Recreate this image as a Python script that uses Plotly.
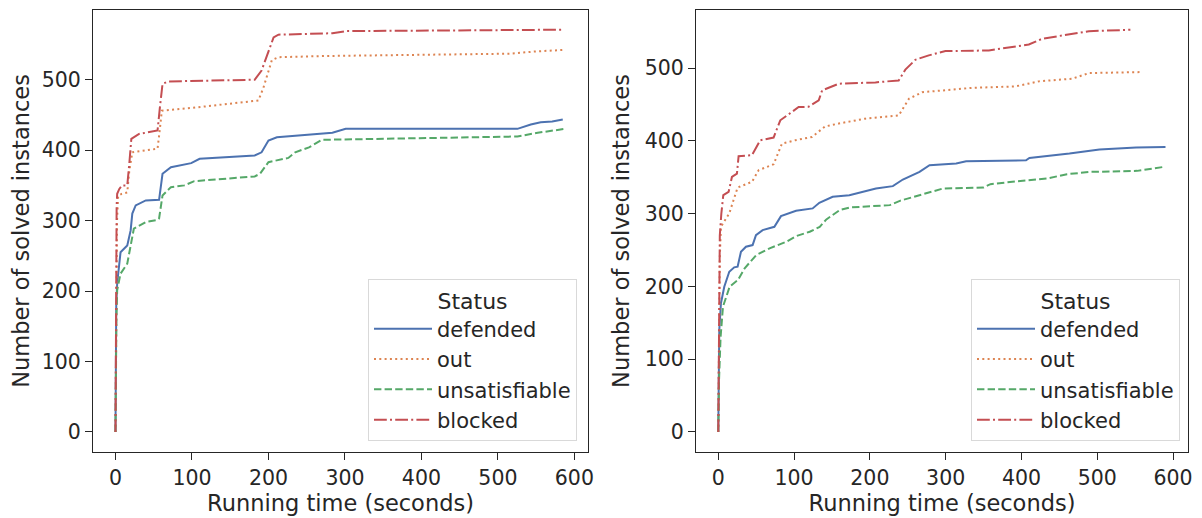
import plotly.graph_objects as go

# ---------------- data ----------------
statuses = ["defended", "out", "unsatisfiable", "blocked"]
colors = {"defended": "#4C72B0", "out": "#DD8452", "unsatisfiable": "#55A868", "blocked": "#C44E52"}
dashes = {"defended": "solid", "out": "2px,3.3px", "unsatisfiable": "7.4px,3.2px", "blocked": "12.8px,3.2px,2px,3.2px"}

# Left panel
left_defended_x = [0, 0.5, 1, 2.2, 6.6, 15.4, 19.8, 22, 26.4, 39.6, 57, 61.5, 72.5, 99, 110, 182, 191, 200, 211, 283.6, 301, 525.5, 543, 556, 571, 584.8]
left_defended_y = [0, 100, 180, 210.7, 255, 264.8, 286, 310, 321.6, 328.7, 329.6, 366.5, 375.9, 381.6, 387.8, 392.5, 397, 413.8, 418.4, 424.7, 430.3, 430.3, 436.5, 439.7, 440.6, 443.5]
left_out_x = [0, 0.5, 1, 2, 3.5, 8, 15.4, 18, 22, 55, 58, 60.6, 100, 186.9, 193.5, 200, 204.5, 213, 275, 516.7, 547.5, 588]
left_out_y = [0, 120, 230, 300, 335, 338, 340, 370, 397, 402, 430, 456, 460, 470.5, 489, 512, 528, 532, 533.7, 537, 540, 542.5]
left_unsat_x = [0, 0.5, 1.2, 2.2, 6.6, 15.4, 19.8, 24, 39.6, 55, 57, 61.5, 72.5, 90, 103, 182, 189, 200, 226, 235, 253, 270, 525.5, 552, 588]
left_unsat_y = [0, 90, 160, 201, 224.7, 238.9, 262, 288.5, 298, 301, 303, 335.7, 347.5, 350, 356, 362.7, 366.5, 383, 389, 397, 404, 414.7, 419.4, 424.7, 430.3]
left_blocked_x = [0, 0.5, 1, 1.5, 2.2, 5, 8.8, 15.4, 18, 20.7, 30.8, 55, 58, 61.5, 69, 182, 191, 200, 206.7, 213, 283.6, 301, 582.7]
left_blocked_y = [0, 150, 260, 320, 338, 345, 350, 350, 380, 416, 423, 428, 460, 494, 497.6, 500, 513, 540, 560, 564, 566, 569, 571]

# Right panel
right_defended_x = [0, 0.5, 1.3, 3.5, 7.9, 14.5, 21, 25.5, 29.9, 36.5, 45.3, 49.7, 58.5, 74, 82.7, 102.6, 124.5, 133.3, 150.9, 172.9, 208, 230.3, 243.5, 265.5, 278.7, 313.9, 327, 406, 410.5, 463.3, 502.9, 551.3, 590]
right_defended_y = [0, 60, 140, 177, 199.7, 220.3, 226.3, 227.3, 247.7, 254.6, 256.9, 270.6, 277.5, 282, 296.7, 304, 307.3, 315, 323.2, 325.5, 334.7, 337.9, 347, 357.5, 366.7, 369, 372, 373.5, 376.7, 382.7, 388.2, 390.9, 391.8]
right_out_x = [0, 0.5, 1, 2, 3.5, 9, 14.5, 25.5, 44.4, 53.2, 73, 84, 101.6, 123.6, 141, 158.9, 194, 238, 251.5, 269, 335, 392, 423, 467, 489, 559.5]
right_out_y = [0, 110, 180, 240, 282, 291, 300.4, 336, 343.8, 359.8, 368, 396.4, 401, 405.5, 420, 423.9, 430.7, 435, 458, 467, 473, 475, 481.9, 485.6, 493.3, 494.7]
right_unsat_x = [0, 1, 3, 6.2, 15, 26, 34.8, 50.1, 67.7, 89.7, 103, 120.6, 133.8, 142.6, 160.2, 173.5, 226.3, 239.5, 270.3, 296.7, 350, 359, 398.5, 433.7, 460, 491, 552.7, 588]
right_unsat_y = [0, 71.7, 130, 172.3, 199.7, 209, 225, 243.2, 252.4, 261.5, 269.3, 275.2, 282, 292.2, 305, 308.6, 311.8, 317.7, 326.9, 334.7, 336, 340.6, 345, 348.4, 354.3, 357.5, 358.9, 364.4]
right_blocked_x = [0, 0.5, 1, 2, 4, 6.6, 13.6, 18, 24.6, 26.8, 44.4, 55.4, 73, 81.8, 92.8, 106, 119, 132.5, 137, 159, 207.3, 238, 246.8, 260, 277.7, 299.7, 356.9, 409.7, 427.3, 466.9, 488.9, 543.7]
right_blocked_y = [0, 130, 220, 270, 300, 325.5, 330, 350.6, 355, 379, 380.4, 401, 404.7, 428.4, 436.6, 446.6, 447, 455.8, 469.5, 478.7, 480.5, 483.2, 498, 511.6, 517.6, 523.5, 524.4, 532.6, 540.5, 547.3, 550.9, 552.8]

x_ticks = [0, 100, 200, 300, 400, 500, 600]
y_ticks = [0, 100, 200, 300, 400, 500]

panels = [
    {"xaxis": "x", "yaxis": "y", "legend": "legend",
     "series": {"defended": (left_defended_x, left_defended_y), "out": (left_out_x, left_out_y),
                "unsatisfiable": (left_unsat_x, left_unsat_y), "blocked": (left_blocked_x, left_blocked_y)}},
    {"xaxis": "x2", "yaxis": "y2", "legend": "legend2",
     "series": {"defended": (right_defended_x, right_defended_y), "out": (right_out_x, right_out_y),
                "unsatisfiable": (right_unsat_x, right_unsat_y), "blocked": (right_blocked_x, right_blocked_y)}},
]

FONT = "DejaVu Sans, Verdana, sans-serif"
INK = "#262626"

# page body has an 8px margin; figure is sized to fill the rest of the window
OFF = 8
W, H = 1202 - OFF, 518 - OFF


def fx(px):
    return (px - OFF) / W


def fy(py):
    return 1 - (py - OFF) / H


fig = go.Figure()
for i, p in enumerate(panels):
    for s in statuses:
        xs, ys = p["series"][s]
        fig.add_trace(go.Scatter(
            x=xs, y=ys, mode="lines", name=s,
            line=dict(color=colors[s], width=2, dash=dashes[s]),
            xaxis=p["xaxis"], yaxis=p["yaxis"], legend=p["legend"],
            legendgroup=f"{s}{i}", hoverinfo="skip",
        ))

axis_common = dict(
    showline=True, linecolor=INK, linewidth=1.25, mirror=True,
    ticks="outside", ticklen=7, tickwidth=1.25, tickcolor=INK,
    showgrid=False, zeroline=False, automargin=False,
    tickfont=dict(family=FONT, size=20.5, color=INK),
    title_font=dict(family=FONT, size=22.5, color=INK),
)

legend_common = dict(
    bgcolor="rgba(255,255,255,0.8)", bordercolor="#d9d9d9", borderwidth=1,
    font=dict(family=FONT, size=21, color=INK),
    title=dict(text="Status", side="top center", font=dict(family=FONT, size=22, color=INK)),
    xanchor="right", yanchor="bottom", tracegroupgap=0, itemwidth=58,
)

fig.update_layout(
    width=W, height=H,
    margin=dict(l=0, r=0, t=0, b=0),
    paper_bgcolor="white", plot_bgcolor="white",
    font=dict(family=FONT, color=INK),
    xaxis=dict(domain=[fx(93), fx(588)], range=[-29.4, 617.8], tickvals=x_ticks,
               title=dict(text="Running time (seconds)", standoff=2), anchor="y", **axis_common),
    yaxis=dict(domain=[fy(452), fy(10)], range=[-28.5, 599], tickvals=y_ticks,
               title=dict(text="Number of solved instances", standoff=8), anchor="x", **axis_common),
    xaxis2=dict(domain=[fx(696), fx(1188)], range=[-29.4, 619.7], tickvals=x_ticks,
                title=dict(text="Running time (seconds)", standoff=2), anchor="y2", **axis_common),
    yaxis2=dict(domain=[fy(452), fy(10)], range=[-27.5, 580], tickvals=y_ticks,
                title=dict(text="Number of solved instances", standoff=8), anchor="x2", **axis_common),
    legend=dict(x=fx(577), y=fy(441), **legend_common),
    legend2=dict(x=fx(1180), y=fy(441), **legend_common),
)

fig.write_html("out.html")
